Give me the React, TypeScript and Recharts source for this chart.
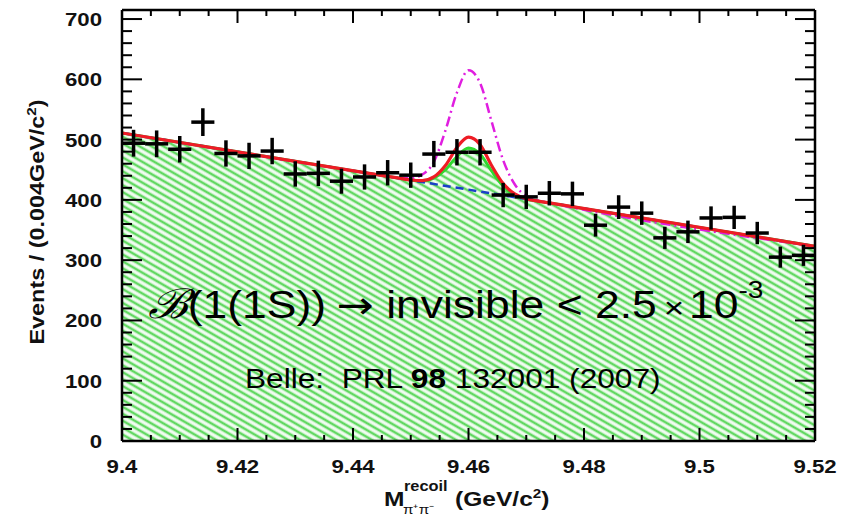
import { ComposedChart, Line, Area, Scatter, ErrorBar, XAxis, YAxis } from 'recharts'

// axis ranges and tick values
const X_MIN = 9.4
const X_MAX = 9.52
const Y_MAX = 715
const X_MAJOR_STEP = 0.02
const X_MINOR_STEP = 0.005
const Y_MAJOR_STEP = 100
const Y_MINOR_STEP = 20
const BIN_WIDTH = 0.004

// events per 4 MeV bin (bin 9.400-9.404 first)
const COUNTS = [
  494, 493, 484, 529, 477, 473, 481, 443, 444, 431,
  438, 445, 441, 476, 479, 479, 408, 405, 411, 410,
  358, 388, 378, 337, 347, 370, 371, 345, 305, 308,
]

// fitted curves, sampled where they could be read
const FIT_X = [9.4, 9.446, 9.448, 9.45, 9.452, 9.454, 9.456, 9.458, 9.46, 9.462, 9.464, 9.466, 9.468, 9.47, 9.472, 9.474, 9.52]
const TOTAL_FIT = [511, 439, 436, 433, 432, 438, 457, 487, 504, 492, 457, 427, 410, 402, 398, 395, 323]
const FILLED_FIT = [511, 439, 436, 433, 431, 436, 450, 472, 486, 476, 448, 423, 408, 401, 398, 395, 323]
const LIMIT_FIT = [511, 439, 436, 436, 442, 463, 515, 578, 615, 594, 530, 466, 426, 406, 399, 395, 323]
const BKG_X = [9.4, 9.52]
const BKG_FIT = [511, 323]

const FONT = "'Liberation Sans', Arial, Helvetica, sans-serif"
const SX = 1.17

const steps = (lo: number, hi: number, step: number) => {
  const out: number[] = []
  for (let k = 0; lo + k * step <= hi + 1e-9; k++) out.push(+(lo + k * step).toFixed(4))
  return out
}
const X_TICKS = steps(X_MIN, X_MAX, X_MINOR_STEP)
const Y_TICKS = steps(0, 700, Y_MINOR_STEP)
const isMajor = (v: number, lo: number, step: number) => {
  const r = (v - lo) / step
  return Math.abs(r - Math.round(r)) < 1e-6
}

const points = COUNTS.map((n, i) => ({
  x: X_MIN + BIN_WIDTH * (i + 0.5),
  y: n,
  ex: BIN_WIDTH / 2,
  ey: Math.sqrt(n),
}))
const fitData = FIT_X.map((x, i) => ({ x, total: TOTAL_FIT[i], filled: FILLED_FIT[i], limit: LIMIT_FIT[i] }))
const bkgData = BKG_X.map((x, i) => ({ x, bkg: BKG_FIT[i] }))

const BottomTick = (props: any) => {
  const { x, y, payload } = props
  const major = isMajor(payload.value, X_MIN, X_MAJOR_STEP)
  return (
    <g>
      <line x1={x} x2={x} y1={y} y2={y - (major ? 13 : 6)} stroke="#000" strokeWidth={2} />
      {major && (
        <text transform={`translate(${x},${y + 32}) scale(${SX},1)`} textAnchor="middle" fontSize={19} fontWeight="bold" fontFamily={FONT} fill="#111">
          {String(+payload.value.toFixed(3))}
        </text>
      )}
    </g>
  )
}

const TopTick = (props: any) => {
  const { x, y, payload } = props
  const major = isMajor(payload.value, X_MIN, X_MAJOR_STEP)
  return <line x1={x} x2={x} y1={y} y2={y + (major ? 13 : 6)} stroke="#000" strokeWidth={2} />
}

const LeftTick = (props: any) => {
  const { x, y, payload } = props
  const major = isMajor(payload.value, 0, Y_MAJOR_STEP)
  return (
    <g>
      <line x1={x} x2={x + (major ? 20 : 10)} y1={y} y2={y} stroke="#000" strokeWidth={2} />
      {major && (
        <text transform={`translate(${x - 20},${y + 7}) scale(${SX},1)`} textAnchor="end" fontSize={19} fontWeight="bold" fontFamily={FONT} fill="#111">
          {payload.value}
        </text>
      )}
    </g>
  )
}

const RightTick = (props: any) => {
  const { x, y, payload } = props
  const major = isMajor(payload.value, 0, Y_MAJOR_STEP)
  return <line x1={x} x2={x - (major ? 20 : 10)} y1={y} y2={y} stroke="#000" strokeWidth={2} />
}

export default function App() {
  return (
    <div style={{ position: 'absolute', left: 0, top: 0, width: 852, height: 518, background: '#fff' }}>
      <ComposedChart width={852} height={518} margin={{ top: 0, right: 0, bottom: 0, left: 0 }}>
        <defs>
          <pattern id="hatch" patternUnits="userSpaceOnUse" width={12} height={6} patternTransform="rotate(30)">
            <rect width={12} height={6} fill="#f2fcf2" />
            <line x1={0} x2={12} y1={3} y2={3} stroke="#62d862" strokeWidth={2.6} />
          </pattern>
        </defs>
        <Area
          data={fitData}
          dataKey="filled"
          type="monotone"
          fill="url(#hatch)"
          fillOpacity={1}
          stroke="#2fd82f"
          strokeWidth={3}
          isAnimationActive={false}
        />
        <Line
          data={bkgData}
          dataKey="bkg"
          xAxisId="top"
          yAxisId="right"
          type="linear"
          stroke="#1a3fc8"
          strokeWidth={2.5}
          strokeDasharray="8 5"
          dot={false}
          isAnimationActive={false}
        />
        <Line
          data={fitData}
          dataKey="limit"
          type="monotone"
          stroke="#e01ee0"
          strokeWidth={2.5}
          strokeDasharray="10 4 2 4"
          dot={false}
          isAnimationActive={false}
        />
        <Line
          data={fitData}
          dataKey="total"
          type="monotone"
          stroke="#ee1c25"
          strokeWidth={3.2}
          dot={false}
          isAnimationActive={false}
        />
        <Scatter data={points} isAnimationActive={false} shape={() => <g />}>
          <ErrorBar dataKey="ey" direction="y" width={0} stroke="#000" strokeWidth={3.5} isAnimationActive={false} />
          <ErrorBar dataKey="ex" direction="x" width={0} stroke="#000" strokeWidth={3.5} isAnimationActive={false} />
        </Scatter>
        <XAxis
          dataKey="x"
          type="number"
          domain={[X_MIN, X_MAX]}
          allowDataOverflow
          ticks={X_TICKS}
          interval={0}
          height={77}
          tickSize={0}
          tickMargin={0}
          tick={<BottomTick />}
          axisLine={{ stroke: '#000', strokeWidth: 2.5 }}
        />
        <XAxis
          xAxisId="top"
          orientation="top"
          dataKey="x"
          type="number"
          domain={[X_MIN, X_MAX]}
          allowDataOverflow
          ticks={X_TICKS}
          interval={0}
          height={10}
          tickSize={0}
          tickMargin={0}
          tick={<TopTick />}
          axisLine={{ stroke: '#000', strokeWidth: 2.5 }}
        />
        <YAxis
          dataKey="y"
          type="number"
          domain={[0, Y_MAX]}
          allowDataOverflow
          ticks={Y_TICKS}
          interval={0}
          width={122}
          tickSize={0}
          tickMargin={0}
          tick={<LeftTick />}
          axisLine={{ stroke: '#000', strokeWidth: 2.5 }}
        />
        <YAxis
          yAxisId="right"
          orientation="right"
          type="number"
          domain={[0, Y_MAX]}
          allowDataOverflow
          ticks={Y_TICKS}
          interval={0}
          width={37}
          tickSize={0}
          tickMargin={0}
          tick={<RightTick />}
          axisLine={{ stroke: '#000', strokeWidth: 2.5 }}
        />
      </ComposedChart>
      <svg width={852} height={518} style={{ position: 'absolute', left: 0, top: 0, pointerEvents: 'none' }}>
        <text transform={`translate(44,222) rotate(-90) scale(${SX},1)`} textAnchor="middle" fontSize={20} fontWeight="bold" fontFamily={FONT} fill="#111">
          Events / (0.004GeV/c<tspan dy={-8} fontSize={13}>2</tspan><tspan dy={8}>)</tspan>
        </text>
        <text transform={`translate(384,506) scale(${SX},1)`} fontSize={21} fontWeight="bold" fontFamily={FONT} fill="#111">M</text>
        <text transform={`translate(404,491) scale(${SX},1)`} fontSize={14} fontWeight="bold" fontFamily={FONT} fill="#111">recoil</text>
        <text transform={`translate(403,514) scale(${SX},1)`} fontSize={13} fontFamily={FONT} fill="#111">π⁺π⁻</text>
        <text transform={`translate(455,506) scale(${SX},1)`} fontSize={21} fontWeight="bold" fontFamily={FONT} fill="#111">
          (GeV/c<tspan dy={-8} fontSize={13}>2</tspan><tspan dy={8}>)</tspan>
        </text>
        <text transform="translate(148,318) scale(1.17,1)" fontSize={38} fontFamily={FONT} fill="#000">
          <tspan fontFamily="'DejaVu Serif'" fontStyle="italic" fontSize={41}>ℬ</tspan>
          <tspan>(1(1S))</tspan>
          <tspan fontFamily="'DejaVu Sans'" dx={9}>→</tspan>
          <tspan>{'\u00a0'}invisible &lt; 2.5</tspan>
          <tspan fontSize={30} dx={6}>×</tspan>
          <tspan dx={4}>10</tspan>
          <tspan fontSize={24} dy={-20}>-3</tspan>
        </text>
        <text transform="translate(245,388) scale(1.13,1)" fontSize={28} fontFamily={FONT} fill="#000">
          Belle:{'\u00a0\u00a0'}PRL <tspan fontWeight="bold">98</tspan> 132001 (2007)
        </text>
      </svg>
    </div>
  )
}
